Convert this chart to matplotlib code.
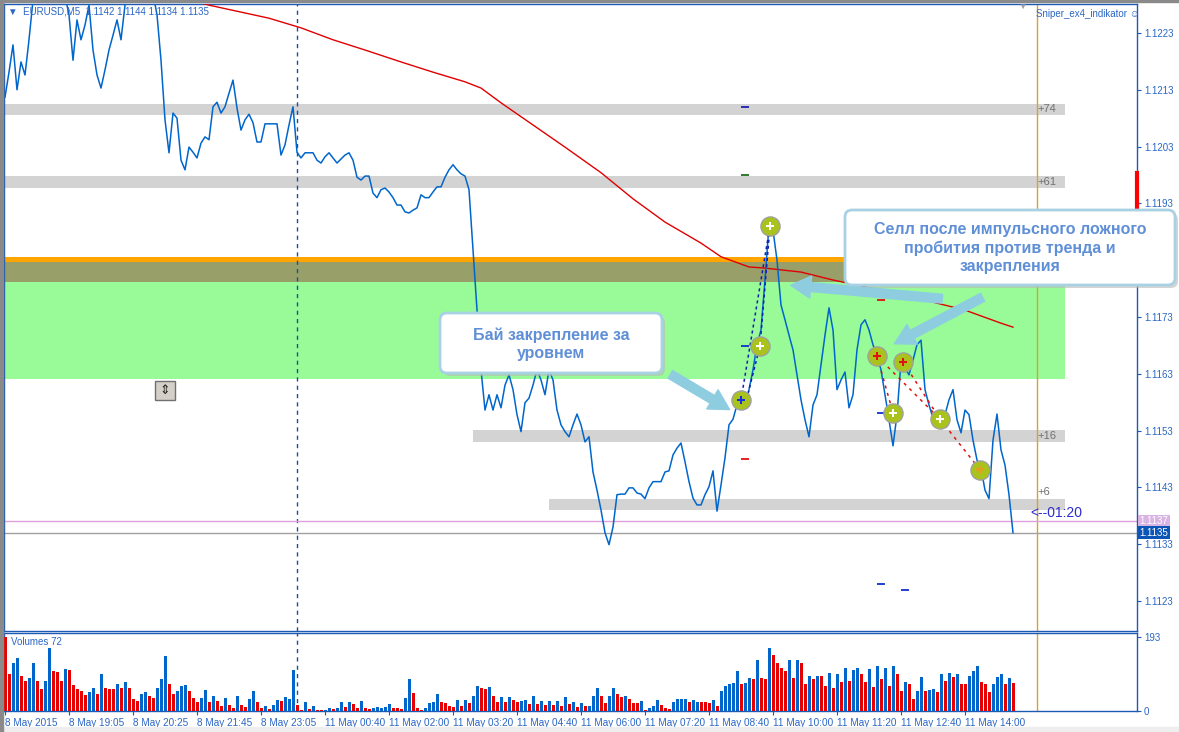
import matplotlib
matplotlib.use("Agg")
import matplotlib.pyplot as plt
import matplotlib.transforms as mtransforms
from matplotlib.patches import FancyBboxPatch, FancyArrowPatch, Rectangle

plt.rcParams['font.family'] = ['Liberation Sans', 'DejaVu Sans']

# --- data (EURUSD M5, line chart) ---
close = [
    1.12117, 1.12161, 1.12209, 1.12130, 1.12179, 1.12156, 1.12218, 1.12288, 1.12300, 1.12320,
    1.12310, 1.12335, 1.12320, 1.12300, 1.12315, 1.12295, 1.12262, 1.12182, 1.12253, 1.12218,
    1.12244, 1.12279, 1.12200, 1.12156, 1.12133, 1.12165, 1.12200, 1.12226, 1.12253, 1.12218,
    1.12279, 1.12300, 1.12320, 1.12310, 1.12330, 1.12315, 1.12325, 1.12300, 1.12262, 1.12182,
    1.12077, 1.12019, 1.12089, 1.12080, 1.12006, 1.11989, 1.12029, 1.12020, 1.12010, 1.12036,
    1.12047, 1.12042, 1.12100, 1.12108, 1.12089, 1.12100, 1.12124, 1.12147, 1.12098, 1.12059,
    1.12077, 1.12087, 1.12072, 1.12038, 1.12038, 1.12070, 1.12070, 1.12070, 1.12070, 1.12015,
    1.12033, 1.12068, 1.12100, 1.12020, 1.12010, 1.12019, 1.12019, 1.12019, 1.12006, 1.12001,
    1.12012, 1.12019, 1.12010, 1.12001, 1.12008, 1.12015, 1.12019, 1.12006, 1.11976, 1.11971,
    1.11978, 1.11978, 1.11948, 1.11940, 1.11954, 1.11957, 1.11950, 1.11940, 1.11927, 1.11927,
    1.11915, 1.11913, 1.11918, 1.11922, 1.11945, 1.11940, 1.11940, 1.11950, 1.11959, 1.11959,
    1.11976, 1.11989, 1.11998, 1.11989, 1.11982, 1.11978, 1.11954, 1.11848, 1.11742, 1.11637,
    1.11566, 1.11593, 1.11566, 1.11593, 1.11570, 1.11610, 1.11628, 1.11602, 1.11558, 1.11528,
    1.11579, 1.11587, 1.11610, 1.11637, 1.11619, 1.11593, 1.11637, 1.11619, 1.11566, 1.11540,
    1.11528, 1.11519, 1.11540, 1.11559, 1.11540, 1.11510, 1.11519, 1.11457, 1.11425, 1.11390,
    1.11350, 1.11329, 1.11360, 1.11417, 1.11418, 1.11418, 1.11429, 1.11429, 1.11420, 1.11418,
    1.11410, 1.11429, 1.11440, 1.11440, 1.11440, 1.11457, 1.11459, 1.11487, 1.11499, 1.11508,
    1.11475, 1.11440, 1.11411, 1.11399, 1.11399, 1.11417, 1.11431, 1.11459, 1.11388, 1.11434,
    1.11482, 1.11540, 1.11550, 1.11575, 1.11584, 1.11570, 1.11602, 1.11637, 1.11681, 1.11707,
    1.11795, 1.11892, 1.11883, 1.11830, 1.11751, 1.11725, 1.11698, 1.11672, 1.11628, 1.11584,
    1.11549, 1.11519, 1.11575, 1.11593, 1.11646, 1.11698, 1.11746, 1.11707, 1.11602, 1.11619,
    1.11633, 1.11570, 1.11593, 1.11672, 1.11716, 1.11725, 1.11707, 1.11681, 1.11661, 1.11637,
    1.11593, 1.11549, 1.11503, 1.11558, 1.11651, 1.11640, 1.11628, 1.11654, 1.11681, 1.11689,
    1.11602, 1.11575, 1.11552, 1.11549, 1.11535, 1.11558, 1.11584, 1.11602, 1.11549, 1.11526,
    1.11566, 1.11558, 1.11513, 1.11478, 1.11464, 1.11425, 1.11410, 1.11513, 1.11559, 1.11496,
    1.11469, 1.11417, 1.11350,
]

volume = [
    193, 95, 124, 137, 92, 77, 87, 124, 77, 56, 77, 163, 105, 101, 79, 110, 108, 68, 58, 53,
    42, 50, 61, 45, 95, 61, 58, 56, 71, 61, 76, 61, 32, 27, 45, 50, 39, 34, 61, 84,
    142, 71, 45, 53, 66, 68, 53, 34, 24, 34, 55, 24, 39, 26, 13, 34, 16, 8, 39, 16,
    11, 32, 53, 24, 8, 13, 5, 16, 29, 26, 37, 32, 108, 16, 3, 24, 4, 13, 3, 3,
    3, 8, 4, 8, 24, 11, 24, 18, 8, 26, 8, 5, 8, 11, 8, 11, 18, 8, 8, 6,
    34, 82, 47, 8, 3, 8, 21, 24, 45, 24, 21, 13, 11, 29, 13, 29, 21, 39, 66, 61,
    58, 63, 39, 24, 37, 24, 37, 29, 24, 26, 29, 18, 39, 18, 26, 16, 26, 16, 26, 13,
    37, 18, 24, 11, 21, 13, 13, 39, 61, 39, 21, 39, 61, 45, 37, 39, 32, 21, 21, 26,
    3, 8, 13, 29, 16, 8, 5, 24, 32, 32, 32, 24, 29, 24, 24, 24, 21, 29, 13, 53,
    66, 71, 74, 103, 71, 74, 87, 82, 134, 87, 84, 163, 145, 124, 113, 103, 134, 87, 132, 124,
    71, 92, 82, 92, 92, 66, 100, 61, 97, 76, 113, 79, 108, 113, 95, 76, 110, 63, 118, 84,
    113, 66, 116, 97, 53, 76, 71, 32, 53, 89, 53, 55, 58, 50, 95, 79, 100, 89, 97, 71,
    71, 92, 103, 118, 76, 71, 50, 71, 89, 95, 71, 87, 72,
]

# 1 = up bar (blue), 0 = down bar (red)
vol_up = [
    0, 0, 1, 1, 0, 0, 1, 1, 0, 0, 1, 1, 0, 0, 0, 1, 0, 0, 0, 0,
    0, 1, 1, 0, 1, 0, 0, 0, 1, 0, 1, 0, 0, 0, 1, 1, 0, 0, 1, 1,
    1, 0, 0, 1, 1, 1, 0, 0, 0, 1, 1, 0, 1, 0, 0, 1, 0, 0, 1, 0,
    0, 1, 1, 0, 0, 1, 0, 1, 1, 0, 1, 1, 1, 0, 0, 1, 0, 1, 0, 0,
    1, 1, 0, 1, 1, 0, 1, 0, 0, 1, 0, 0, 1, 1, 1, 1, 1, 0, 0, 0,
    1, 1, 0, 0, 0, 1, 1, 1, 1, 0, 0, 0, 0, 1, 0, 1, 0, 1, 1, 0,
    0, 1, 0, 0, 1, 0, 1, 0, 0, 1, 1, 0, 1, 0, 1, 0, 1, 0, 1, 0,
    1, 0, 1, 0, 1, 0, 1, 1, 1, 0, 0, 1, 1, 0, 0, 1, 0, 0, 0, 1,
    0, 1, 1, 1, 0, 0, 0, 1, 1, 1, 1, 0, 1, 1, 0, 0, 0, 1, 0, 1,
    1, 1, 1, 1, 0, 1, 1, 0, 1, 0, 0, 1, 0, 0, 0, 0, 1, 0, 1, 0,
    0, 1, 0, 1, 0, 0, 1, 0, 1, 0, 1, 0, 1, 1, 0, 0, 1, 0, 1, 0,
    1, 0, 1, 0, 0, 1, 0, 0, 1, 1, 0, 1, 1, 0, 1, 0, 1, 0, 1, 0,
    0, 1, 1, 1, 0, 0, 0, 1, 1, 1, 0, 1, 0,
]

# moving average (red), sampled at these bars
ma_bar = [44, 51, 66, 74, 82, 90, 99, 107, 115, 119, 124, 132, 140, 149, 157,
          165, 174, 179, 186, 190, 199, 207, 215, 224, 232, 240, 249, 252]
ma_val = [1.12293, 1.12279, 1.12256, 1.12239, 1.12218, 1.12200, 1.12179, 1.12161,
          1.12144, 1.12133, 1.12107, 1.12068, 1.12029, 1.11984, 1.11938, 1.11897,
          1.11860, 1.11836, 1.11818, 1.11816, 1.11809, 1.11795, 1.11783, 1.11769,
          1.11756, 1.11742, 1.11719, 1.11712]

time_labels = ["8 May 2015", "8 May 19:05", "8 May 20:25", "8 May 21:45", "8 May 23:05",
               "11 May 00:40", "11 May 02:00", "11 May 03:20", "11 May 04:40", "11 May 06:00",
               "11 May 07:20", "11 May 08:40", "11 May 10:00", "11 May 11:20", "11 May 12:40",
               "11 May 14:00"]
price_ticks = [1.1223, 1.1213, 1.1203, 1.1193, 1.1173, 1.1163, 1.1153, 1.1143, 1.1133, 1.1123]

# grey levels
band_lo = [1.12086, 1.11957, 1.11510, 1.11390]
band_hi = [1.12105, 1.11978, 1.11531, 1.11410]
band_from = [-1, -1, 117, 136]
band_text = ["+74", "+61", "+16", "+6"]
band_text_at = [1.12096, 1.11968, 1.11521, 1.11422]

# supply zone
zone_orange = (1.11827, 1.11836)
zone_olive = (1.11792, 1.11827)
zone_green = (1.11621, 1.11792)

# signals
sig_bar = [184, 188.75, 191.25, 218, 224.5, 222, 233.75, 243.75]
sig_price = [1.11584, 1.11679, 1.11890, 1.11661, 1.11651, 1.11561, 1.11550, 1.11461]
sig_inner = ['#1030E0', '#FFFFFF', '#FFFFFF', '#E01010', '#E01010', '#FFFFFF', '#FFFFFF', '#E0A020']

dash_bar = [185, 185, 185, 185, 219, 219, 219, 225]
dash_price = [1.12100, 1.11980, 1.11679, 1.11480, 1.11760, 1.11561, 1.11260, 1.11249]
dash_color = ['#2020B0', '#207020', '#1030D0', '#E01010', '#E01010', '#1030D0', '#1030D0', '#1030D0']

BLUE = '#0066CC'
FRAME = '#1C5AB4'
TXT = '#2A66C4'

W, H = 1179, 732
fig = plt.figure(figsize=(W / 100, H / 100), dpi=100)


def rect(x0, y0, x1, y1):
    return [x0 / W, 1 - y1 / H, (x1 - x0) / W, (y1 - y0) / H]


def inch(x, y):
    return (x / 100, (H - y) / 100)


ax = fig.add_axes(rect(4, 4, 1137, 631))
axv = fig.add_axes(rect(4, 633, 1137, 711))
bars = list(range(len(close)))

for a in (ax, axv):
    a.set_xlim(-0.25, 283)
    for s in a.spines.values():
        s.set_color(FRAME)
        s.set_linewidth(1.0)
    a.axvline(73, color='#1B4F9C', lw=1, ls=(0, (3, 3)), zorder=2)
    a.axvline(258, color='#DAA030', lw=1, zorder=2)

ax.set_ylim(1.11177, 1.12281)

# levels and zone
for lo, hi, x0, t, ty in zip(band_lo, band_hi, band_from, band_text, band_text_at):
    ax.fill_between([x0, 265], lo, hi, color='#D3D3D3', lw=0, zorder=1)
    ax.text(258, ty, t, color='#707070', fontsize=8, va='center', ha='left', zorder=3)
ax.fill_between([-1, 265], *zone_green, color='#98FB98', lw=0, zorder=1)
ax.fill_between([-1, 265], *zone_olive, color='#989F69', lw=0, zorder=1)
ax.fill_between([-1, 265], *zone_orange, color='#FFA500', lw=0, zorder=1)

ax.axhline(1.1137, color='#DDA0DD', lw=1, zorder=2)
ax.axhline(1.1135, color='#A0A0A0', lw=1, zorder=2)

ax.plot(ma_bar, ma_val, color='#E00000', lw=1, zorder=3)
ax.plot(bars, close, color=BLUE, lw=1.1, zorder=4)

# signal links
ax.plot([sig_bar[0], sig_bar[2]], [sig_price[0], sig_price[2]], color='#1020B0', lw=1.1, ls=(0, (2, 2)), zorder=5)
ax.plot([sig_bar[0] + 1, sig_bar[1], sig_bar[2]], [sig_price[0] - 0.0001, sig_price[1], sig_price[2]],
        color='#1020B0', lw=1.1, ls=(0, (2, 2)), zorder=5)
for i, j in [(3, 5), (3, 6), (4, 6), (6, 7)]:
    ax.plot([sig_bar[i], sig_bar[j]], [sig_price[i], sig_price[j]], color='#E01010', lw=1.1,
            ls=(0, (2, 3)), zorder=5)
ax.scatter(sig_bar, sig_price, s=190, c='#A9C31C', edgecolors='#A0A0A0', linewidths=1, zorder=6)
ax.scatter(sig_bar, sig_price, s=30, c=sig_inner, marker='P', linewidths=0, zorder=7)
ax.scatter(dash_bar, dash_price, s=40, c=dash_color, marker='_', linewidths=1.3, zorder=5)

ax.text(256.3, 1.11385, "<--01:20", color='#2B2BD0', fontsize=10, va='center', ha='left', zorder=5)

# right price scale
ax.yaxis.tick_right()
ax.set_yticks(price_ticks)
ax.set_yticklabels([f"{p:.4f}" for p in price_ticks])
ax.tick_params(axis='y', colors=FRAME, labelcolor=TXT, labelsize=7, length=3, pad=2)
ax.set_xticks([])
blend = mtransforms.blended_transform_factory(ax.transAxes, ax.transData)
ax.plot([1.0, 1.0], [1.11924, 1.11984], color='#FF0000', lw=3, transform=blend, clip_on=False, zorder=8)
ax.text(1.0023, 1.1137, "1.1137", transform=blend, fontsize=7, color='white', va='center', ha='left',
        bbox=dict(facecolor='#D9B3E3', edgecolor='none', pad=1.2), clip_on=False)
ax.text(1.0023, 1.1135, "1.1135", transform=blend, fontsize=7, color='white', va='center', ha='left',
        bbox=dict(facecolor='#0A55B5', edgecolor='none', pad=1.2), clip_on=False)

# volumes
vcol = ['#0066CC' if u else '#E60000' for u in vol_up]
axv.bar(bars, volume, width=0.75, color=vcol, zorder=3)
axv.set_ylim(0, 203)
axv.yaxis.tick_right()
axv.set_yticks([0, 193])
axv.set_yticklabels(["0", "193"])
axv.tick_params(axis='y', colors=FRAME, labelcolor=TXT, labelsize=7, length=3, pad=2)
axv.set_xticks(range(0, 16 * len(time_labels), 16))
axv.set_xticklabels(time_labels)
axv.tick_params(axis='x', colors=FRAME, labelcolor=TXT, labelsize=7.2, length=3, pad=2)
for lab in axv.get_xticklabels():
    lab.set_horizontalalignment('left')
axv.text(0.006, 0.88, "Volumes 72", transform=axv.transAxes, color=TXT, fontsize=7, va='center')

# headers
fig.text(8 / W, 1 - 12 / H, "\u25BC  EURUSD,M5  1.1142 1.1144 1.1134 1.1135", color=TXT, fontsize=7, va='center')
fig.text(1036 / W, 1 - 14 / H, "Sniper_ex4_indikator \u263A", color=TXT, fontsize=7, va='center')
fig.text(1022 / W, 1 - 7 / H, "\u25BC", color='#A0A0A0', fontsize=6, va='center', ha='center')

# window frame bits
fig.add_artist(Rectangle((0, 0), 0.025, H / 100, transform=fig.dpi_scale_trans, color='#8A8A8A', zorder=9))
fig.add_artist(Rectangle((0, (H - 2) / 100), W / 100, 0.02, transform=fig.dpi_scale_trans, color='#8A8A8A', zorder=9))
fig.add_artist(Rectangle((0, 0), W / 100, 0.05, transform=fig.dpi_scale_trans, color='#EEEEEE', zorder=1))

# small scroll button
fig.add_artist(Rectangle(inch(155, 400), 0.2, 0.19, transform=fig.dpi_scale_trans, facecolor='#D4D0C8',
                         edgecolor='#707070', lw=1, zorder=9))
fig.text(165 / W, 1 - 391 / H, "\u21D5", fontsize=9, ha='center', va='center', color='#202020', zorder=10,
         family='DejaVu Sans')


def callout(x0, y0, x1, y1, text, cy):
    sh = FancyBboxPatch(inch(x0 + 3, y1 + 3), (x1 - x0) / 100, (y1 - y0) / 100,
                        boxstyle='round,pad=0,rounding_size=0.07', transform=fig.dpi_scale_trans,
                        facecolor='#B8B8B8', edgecolor='none', alpha=0.6, zorder=10)
    bx = FancyBboxPatch(inch(x0, y1), (x1 - x0) / 100, (y1 - y0) / 100,
                        boxstyle='round,pad=0,rounding_size=0.07', transform=fig.dpi_scale_trans,
                        facecolor='white', edgecolor='#A8D2E4', lw=2, zorder=11)
    fig.add_artist(sh)
    fig.add_artist(bx)
    fig.text((x0 + x1) / 2 / W, 1 - cy / H, text, ha='center', va='center', color='#5F8FD6',
             fontsize=11.5, fontweight='bold', linespacing=1.25, zorder=12)


def arrow(xa, ya, xb, yb):
    fig.add_artist(FancyArrowPatch(inch(xa, ya), inch(xb, yb), transform=fig.dpi_scale_trans,
                                   arrowstyle='simple,head_length=0.9,head_width=1.0,tail_width=0.4',
                                   mutation_scale=16, color='#8ECDE0', zorder=10))


callout(440, 313, 662, 373, "Бай закрепление за\nуровнем", 344)
callout(845, 210, 1175, 285, "Селл после импульсного ложного\nпробития против тренда и\nзакрепления", 248)
arrow(668, 373, 732, 411)
arrow(945, 299, 788, 285)
arrow(985, 296, 892, 345)

fig.savefig("out.png", dpi=100)
